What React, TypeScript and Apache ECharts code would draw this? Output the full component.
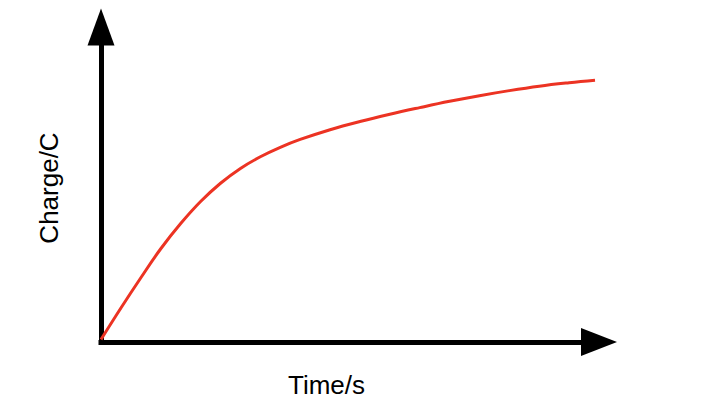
import React, { useEffect, useRef } from "react";
import * as echarts from "echarts";

// Time (arbitrary units, 0..100 along the axis)
const timeValues = [0, 4, 8, 12, 16, 20, 24, 28, 32, 36, 40, 46, 52, 58, 64, 70, 76, 82, 88, 94, 99.2];
// Charge (arbitrary units, 0..100 along the axis)
const chargeValues = [0.8, 10.8, 20.4, 29.6, 37.6, 44.6, 50.4, 55.1, 58.8, 61.8, 64.3, 67.4, 70.0, 72.3, 74.4, 76.4, 78.2, 79.8, 81.2, 82.3, 83.1];

const xAxisName = "Time/s";
const yAxisName = "Charge/C";

export default function App() {
  const ref = useRef<HTMLDivElement>(null);
  useEffect(() => {
    if (!ref.current) return;
    const chart = echarts.init(ref.current, null, { renderer: "svg" });
    const data = timeValues.map((t, i) => [t, chargeValues[i]]);
    const axisLine = (size: number[]) => ({
      show: true,
      symbol: ["none", "triangle"],
      symbolSize: size,
      lineStyle: { color: "#000", width: 5, cap: "square" },
    });
    chart.setOption({
      animation: false,
      backgroundColor: "#fff",
      grid: { left: 101, top: 27, right: 123, bottom: 72 },
      xAxis: {
        type: "value",
        min: 0,
        max: 100,
        axisLine: axisLine([28, 36]),
        axisTick: { show: false },
        axisLabel: { show: false },
        splitLine: { show: false },
      },
      yAxis: {
        type: "value",
        min: 0,
        max: 100,
        axisLine: axisLine([27, 37]),
        axisTick: { show: false },
        axisLabel: { show: false },
        splitLine: { show: false },
      },
      graphic: [
        {
          type: "text",
          x: 326.5,
          y: 385,
          style: {
            text: xAxisName,
            font: '26px "Liberation Sans", Arial, sans-serif',
            fill: "#000",
            textAlign: "center",
            textVerticalAlign: "middle",
          },
        },
        {
          type: "text",
          x: 49,
          y: 188,
          rotation: Math.PI / 2,
          style: {
            text: yAxisName,
            font: '26px "Liberation Sans", Arial, sans-serif',
            fill: "#000",
            textAlign: "center",
            textVerticalAlign: "middle",
          },
        },
      ],
      series: [
        {
          type: "line",
          data,
          smooth: 0.4,
          showSymbol: false,
          symbol: "none",
          lineStyle: { color: "#ec3323", width: 3 },
        },
      ],
    });
    return () => chart.dispose();
  }, []);
  return (
    <div
      ref={ref}
      style={{ position: "fixed", left: 0, top: 0, width: 722, height: 414, background: "#fff" }}
    />
  );
}
